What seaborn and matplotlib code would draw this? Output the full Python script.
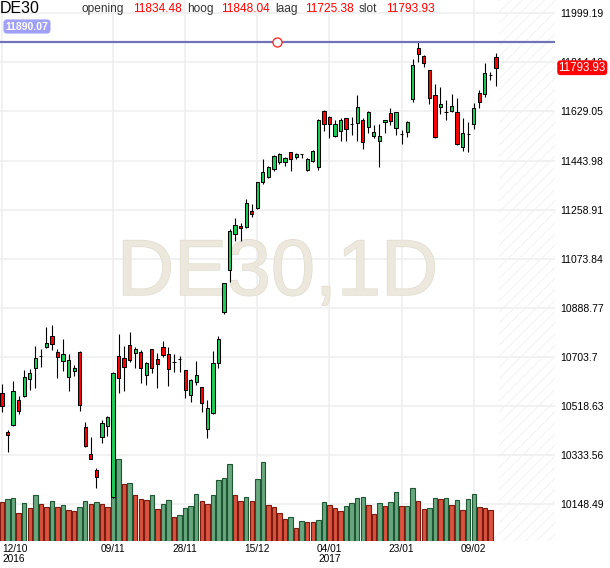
import numpy as np
import pandas as pd
import matplotlib
matplotlib.use("Agg")
import matplotlib.pyplot as plt
import matplotlib.patheffects as pe
from matplotlib.transforms import blended_transform_factory
import seaborn as sns

# ---------------- data ----------------
opens = [10566.0, 10420.0, 10445.3, 10539.6, 10554.7, 10621.1, 10660.3, 10705.5, 10739.5, 10781.0,
         10720.6, 10686.7, 10628.6, 10651.2, 10720.6, 10437.7, 10335.9, 10276.7, 10402.3, 10443.8,
         10176.0, 10705.5, 10698.0, 10748.1, 10716.8, 10720.6, 10633.9, 10731.9, 10694.2, 10739.5,
         10713.1, 10682.9, 10694.2, 10652.7, 10558.4, 10609.7, 10588.6, 10430.2, 10490.6, 10679.1,
         10873.7, 11031.0, 11166.8, 11195.8, 11192.1, 11253.5, 11263.7, 11364.1, 11380.6, 11410.8,
         11439.5, 11439.5, 11474.9, 11456.1, 11467.4, 11408.2, 11442.1, 11420.6, 11629.6, 11606.9,
         11536.4, 11556.4, 11603.2, 11581.7, 11584.3, 11596.8, 11571.5, 11536.4, 11518.7, 11588.1,
         11622.0, 11565.5, 11542.8, 11550.4, 11674.8, 11867.2, 11839.3, 11785.3, 11691.1, 11644.7,
         11625.8, 11631.8, 11625.8, 11493.8, 11542.8, 11580.5, 11697.5, 11693.7, 11766.5, 11834.48]
highs = [10599.9, 10427.6, 10611.2, 10554.7, 10652.7, 10656.5, 10743.2, 10731.9, 10814.9, 10822.5,
         10733.1, 10769.6, 10714.2, 10672.7, 10726.6, 10456.6, 10400.0, 10283.1, 10465.3, 10480.4,
         10646.3, 10788.5, 10745.5, 10796.0, 10741.7, 10729.3, 10685.2, 10733.0, 10719.1, 10763.2,
         10739.5, 10713.1, 10705.5, 10654.0, 10619.9, 10688.9, 10590.0, 10540.7, 10726.6, 10782.1,
         10983.1, 11184.5, 11228.3, 11207.2, 11297.7, 11278.8, 11363.0, 11448.5, 11422.0, 11464.8,
         11471.2, 11456.1, 11476.0, 11471.2, 11468.5, 11452.3, 11483.6, 11599.4, 11634.5, 11613.0,
         11596.8, 11603.2, 11605.0, 11609.2, 11689.9, 11603.2, 11631.8, 11577.9, 11580.5, 11598.0,
         11640.9, 11628.1, 11559.0, 11593.0, 11826.8, 11890.07, 11841.0, 11787.0, 11731.4, 11720.1,
         11672.2, 11693.7, 11678.6, 11603.2, 11588.1, 11659.7, 11709.9, 11810.6, 11778.9, 11848.04]
lows = [10496.6, 10343.5, 10443.8, 10486.8, 10552.0, 10579.6, 10587.1, 10666.3, 10737.0, 10730.4,
        10624.8, 10651.2, 10575.8, 10632.4, 10500.4, 10362.3, 10317.0, 10207.7, 10377.4, 10404.9,
        10170.0, 10568.2, 10575.8, 10685.2, 10660.3, 10603.7, 10598.4, 10643.7, 10587.1, 10701.8,
        10594.6, 10645.2, 10645.2, 10549.4, 10534.3, 10597.3, 10496.6, 10396.3, 10486.8, 10662.5,
        10865.1, 10984.6, 11141.5, 11140.4, 11190.0, 11229.8, 11262.0, 11354.2, 11379.0, 11404.4,
        11429.7, 11423.3, 11405.5, 11448.5, 11454.6, 11404.4, 11439.5, 11408.2, 11555.3, 11527.7,
        11533.8, 11518.7, 11518.7, 11540.2, 11517.6, 11487.4, 11546.6, 11530.0, 11420.6, 11546.6,
        11577.9, 11540.2, 11505.1, 11533.8, 11665.8, 11816.6, 11795.5, 11656.0, 11530.0, 11618.3,
        11596.8, 11625.8, 11503.0, 11479.8, 11474.9, 11562.8, 11640.9, 11684.6, 11747.6, 11725.38]
closes = [10518.1, 10407.6, 10573.5, 10498.1, 10627.5, 10641.4, 10699.1, 10705.5, 10754.6, 10750.8,
          10704.0, 10713.1, 10690.4, 10661.4, 10520.7, 10366.1, 10319.3, 10251.4, 10452.8, 10475.5,
          10641.4, 10624.8, 10664.0, 10690.4, 10731.9, 10660.3, 10680.3, 10660.3, 10677.6, 10709.3,
          10656.5, 10682.9, 10694.2, 10577.3, 10616.1, 10635.0, 10528.3, 10509.4, 10679.1, 10769.6,
          10980.8, 11178.1, 11199.6, 11188.3, 11282.6, 11242.2, 11361.8, 11399.5, 11420.6, 11461.0,
          11467.4, 11452.3, 11448.5, 11467.4, 11468.0, 11448.5, 11479.8, 11596.8, 11580.5, 11580.5,
          11580.5, 11596.8, 11561.7, 11581.7, 11644.7, 11514.9, 11625.8, 11550.4, 11536.4, 11596.8,
          11594.1, 11625.8, 11542.8, 11590.3, 11804.2, 11844.6, 11810.6, 11678.6, 11531.5, 11656.0,
          11625.8, 11649.6, 11505.1, 11546.6, 11542.8, 11640.9, 11663.5, 11772.9, 11766.5, 11793.93]
volumes = [38700, 41700, 42700, 27700, 37700, 32700, 45700, 36700, 33700, 39700,
           33700, 35700, 30700, 29700, 33700, 39700, 36700, 38700, 36700, 33700,
           74300, 81700, 57000, 57700, 45700, 41700, 41300, 45700, 31700, 36700,
           40700, 23700, 25700, 32700, 34700, 46700, 39700, 36700, 45700, 60700,
           62700, 76700, 45700, 39700, 43700, 39700, 61700, 78700, 35700, 33700,
           27700, 21700, 23700, 12700, 19700, 19300, 18700, 20700, 38700, 35700,
           32700, 29700, 34700, 37700, 42700, 43700, 35700, 26700, 37700, 34700,
           38700, 48700, 34700, 35000, 52700, 39700, 31700, 32700, 42700, 41700,
           42700, 35700, 40700, 30700, 41700, 46700, 33700, 33300, 30700, 0]

price_ticks = [11999.19, 11814.12, 11629.05, 11443.98, 11258.91, 11073.84,
               10888.77, 10703.7, 10518.63, 10333.56, 10148.49]
price_tick_labels = ["11999.19", "11814.12", "11629.05", "11443.98", "11258.91", "11073.84",
                     "10888.77", "10703.7", "10518.63", "10333.56", "10148.49"]
date_tick_idx = [0, 20, 33, 46, 59, 72, 85]
date_tick_labels = ["12/10\n2016", "09/11", "28/11", "15/12", "04/01\n2017", "23/01", "09/02"]
symbol = "DE30"
timeframe = "1D"

# ---------------- style ----------------
sns.set_theme(style="white")
plt.rcParams["font.family"] = ["Liberation Sans", "DejaVu Sans"]
plt.rcParams["hatch.linewidth"] = 0.7

W, H = 610, 568
fig = plt.figure(figsize=(W / 100, H / 100), dpi=100)
fig.patch.set_facecolor("white")

AX_R, AX_B = 555, 541
pos = [0, 1 - AX_B / H, AX_R / W, AX_B / H]
ax = fig.add_axes(pos)                       # grid, ticks, watermark
axv = ax.twinx()                             # volume
axc = fig.add_axes(pos, sharex=ax, sharey=ax)  # candles

n = len(closes)
idx = np.arange(n)
x_min, x_max = -0.36, 99.64
y_min, y_max = 10008.9, 12049.35

# ---- background axis ----
for s in ax.spines.values():
    s.set_visible(False)
ax.set_facecolor("white")
ax.set_yticks(price_ticks, labels=price_tick_labels)
ax.yaxis.tick_right()
ax.set_xticks(date_tick_idx, labels=date_tick_labels)
ax.tick_params(axis="y", length=0, pad=4, labelsize=7.5, labelcolor="black")
ax.tick_params(axis="x", length=0, pad=2.2, labelsize=7.3, labelcolor="black")
for lab in ax.get_xticklabels():
    lab.set_linespacing(0.95)
ax.get_xticklabels()[0].set_ha("left")
ax.grid(True, color="#efefef", linewidth=1.2)
ax.set_axisbelow(True)
ax.set_xlabel("")
ax.set_ylabel("")

# future (hatched) area
ax.axvspan(n - 0.5, x_max, facecolor="none", edgecolor="#f2f2f2", hatch="///", linewidth=0, zorder=0.6)

# watermark
ax.text(0.5, 1 - 295 / AX_B, f"{symbol},{timeframe}", transform=ax.transAxes, ha="center",
        va="baseline", fontsize=57, color="#ece8de", zorder=0.8,
        path_effects=[pe.Stroke(linewidth=1.0, foreground="#e2dccd"), pe.Normal()])

# ---- volume ----
vol_dir = ["down"] + ["up" if volumes[i] > volumes[i - 1] else "down" for i in range(1, n)]
vdf = pd.DataFrame({"idx": idx, "vol": volumes, "dir": vol_dir})
vdf = vdf[vdf["vol"] > 0]
sns.barplot(data=vdf, x="idx", y="vol", hue="dir", palette={"up": "#69a77f", "down": "#da533e"},
            native_scale=True, dodge=False, width=0.8, errorbar=None, legend=False,
            saturation=1, linewidth=0.8, ax=axv)
for p in axv.patches:
    fc = p.get_facecolor()
    p.set_edgecolor("#1f5634" if fc[1] > fc[0] else "#7a1a10")
axv.set_ylim(0, AX_B * 1000)
axv.set_axis_off()

# ---- candles ----
o = np.array(opens); c = np.array(closes); h = np.array(highs); l = np.array(lows)
up = c >= o
body_col = np.where(up, "#1ecb55", "#ff0000")
axc.vlines(idx, l, h, colors="black", linewidth=0.8, zorder=2)
axc.bar(idx, np.abs(c - o), bottom=np.minimum(o, c), width=0.58, color=body_col,
        edgecolor="black", linewidth=0.75, zorder=3)
max_high = max(highs)
axc.axhline(max_high, color="#7272b8", linewidth=1.6, zorder=4)
axc.plot([49.5], [max_high], "o", ms=6.5, mfc="white", mec="#ff3030", mew=1.0, zorder=5)
axc.set_axis_off()

ax.set_xlim(x_min, x_max)
ax.set_ylim(y_min, y_max)

# ---- last price label on axis ----
trans = blended_transform_factory(ax.transAxes, ax.transData)
ax.annotate(f"{closes[-1]:.2f}", xy=(1, closes[-1]), xycoords=trans, xytext=(2.6, 0),
            textcoords="offset points", ha="left", va="center", fontsize=8.4, color="white",
            bbox=dict(boxstyle="round,pad=0.12,rounding_size=0.3", fc="#ff0000", ec="none"),
            annotation_clip=False, zorder=20)

# ---- header ----
def ftext(px, py, s, **kw):
    fig.text(px / W, 1 - py / H, s, va="baseline", ha="left", **kw)

ftext(0, 12.7, symbol, fontsize=11.5, color="black")
hdr_labels = ["opening", "hoog", "laag", "slot"]
hdr_values = [opens[-1], highs[-1], lows[-1], closes[-1]]
lab_x = [82, 187, 275, 359]
val_x = [133, 221, 305, 386]
for lx, vx, lab, val in zip(lab_x, val_x, hdr_labels, hdr_values):
    ftext(lx, 11.7, lab, fontsize=8.6, color="#333333")
    ftext(vx, 11.7, f"{val:.2f}", fontsize=8.6, color="#ff0000")

# max-high badge
fig.text(27 / W, 1 - 26.5 / H, f"{max_high:.2f}", ha="center", va="center", fontsize=7.5,
         fontweight="bold", color="white",
         bbox=dict(boxstyle="round,pad=0.2,rounding_size=0.35", fc="#a0a0f8", ec="none"))

fig.savefig("out.png", dpi=100)
